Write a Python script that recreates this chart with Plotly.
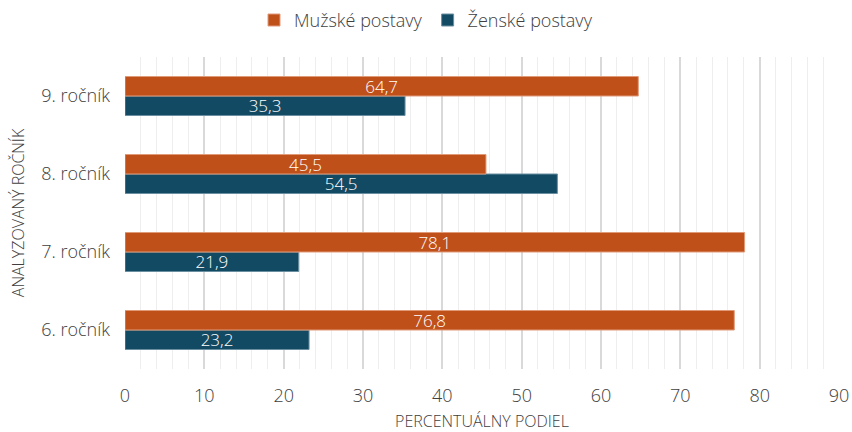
import plotly.graph_objects as go

rocniky = ["6. ročník", "7. ročník", "8. ročník", "9. ročník"]
muzske = [76.8, 78.1, 45.5, 64.7]
zenske = [23.2, 21.9, 54.5, 35.3]
x_ticks = [0, 10, 20, 30, 40, 50, 60, 70, 80, 90]

font_family = "Open Sans, Lato, sans-serif"
text_col = "#404040"
fs = 18

fig = go.Figure()
fig.add_trace(go.Bar(
    y=rocniky, x=zenske, orientation="h", name="Ženské postavy",
    marker=dict(color="#134A63", line=dict(color="#6a8fa0", width=1)),
    text=[f"{v:.1f}".replace(".", ",") for v in zenske],
    textposition="inside", insidetextanchor="middle",
    textfont=dict(color="white", size=17, family=font_family, weight=300),
    legendrank=2,
))
fig.add_trace(go.Bar(
    y=rocniky, x=muzske, orientation="h", name="Mužské postavy",
    marker=dict(color="#C0501A", line=dict(color="#e09a78", width=1)),
    text=[f"{v:.1f}".replace(".", ",") for v in muzske],
    textposition="inside", insidetextanchor="middle",
    textfont=dict(color="white", size=17, family=font_family, weight=300),
    legendrank=1,
))

fig.update_layout(
    width=852, height=432,
    barmode="group", bargap=0.5, bargroupgap=0,
    plot_bgcolor="white", paper_bgcolor="white",
    font=dict(family=font_family, color=text_col, size=fs, weight=300),
    margin=dict(l=125, r=13, t=57, b=63),
    legend=dict(orientation="h", x=0.5, xanchor="center", xref="container",
                y=0.953, yanchor="middle", yref="container",
                font=dict(size=fs, weight=300), itemwidth=30, tracegroupgap=0),
    uniformtext=dict(mode="show", minsize=10),
    showlegend=True,
)
fig.update_xaxes(
    range=[0, 90], tickvals=x_ticks, ticktext=[str(t) for t in x_ticks],
    showgrid=True, gridcolor="#d9d9d9", gridwidth=1.5,
    minor=dict(dtick=2, showgrid=True, gridcolor="#eeeeee", gridwidth=1),
    zeroline=False, showline=False, ticks="", automargin=False,
    tickfont=dict(size=fs), ticklabelstandoff=14,
    title=dict(text="PERCENTUÁLNY PODIEL", font=dict(size=16), standoff=15),
)
fig.update_yaxes(
    showgrid=False, zeroline=False, showline=False, ticks="", automargin=False,
    tickfont=dict(size=fs), ticklabelstandoff=14,
    title=dict(text="ANALYZOVANÝ ROČNÍK", font=dict(size=16), standoff=12),
)

fig.write_html("out.html", config={"displayModeBar": False},
               post_script="document.body.style.margin='0';")
